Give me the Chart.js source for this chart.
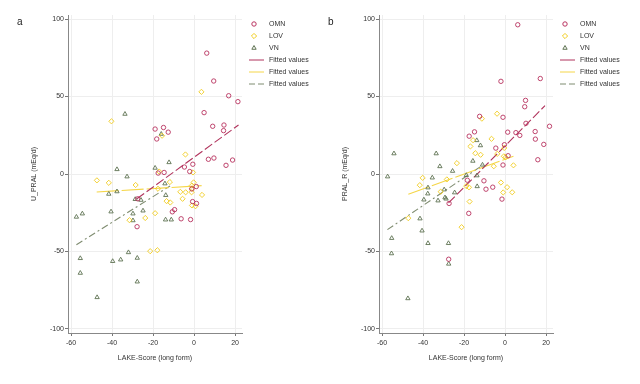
<!DOCTYPE html>
<html>
<head>
<meta charset="utf-8">
<script src="https://cdn.jsdelivr.net/npm/chart.js@4.4.1/dist/chart.umd.min.js"></script>
<style>
  body { margin: 0; background: #fff; }
  .panel { position: absolute; top: 0; width: 320px; height: 384px; }
</style>
</head>
<body>
<div class="panel" style="left:0"><canvas id="chartA" width="320" height="384"></canvas></div>
<div class="panel" style="left:311px"><canvas id="chartB" width="320" height="384"></canvas></div>
<script>
// ticks
const xTicks = [-60, -40, -20, 0, 20];
const yTicks = [-100, -50, 0, 50, 100];
const groups = ["OMN", "LOV", "VN"];

// panel a : U_PRAL vs LAKE-Score  [x, y]
const omnA = [[6.2,78],[9.6,60],[16.9,50.5],[21.4,46.7],[4.9,39.6],[9.1,30.8],[14.6,31.6],[14.4,28],
  [-19,29],[-14.9,30],[-12.6,27],[-18.2,22.6],[7,9.5],[9.7,10.3],[15.6,5.6],[18.8,9],[-4.7,4.5],
  [-0.6,6.3],[-2.1,1.6],[-17.5,0.6],[-14.6,1],[-1.1,-9.6],[1.1,-8.1],[-0.7,-17.8],[1.2,-19],
  [-9.5,-23],[-10.6,-24.4],[-6.3,-28.9],[-1.7,-29.4],[-27.5,-16],[-27.8,-34]];
const lovA = [[3.6,53],[-40.3,34],[-15.6,24.7],[-4.2,12.6],[-0.5,1],[-17,1.6],[-47.4,-4.1],[-41.6,-5.7],
  [-28.5,-7.1],[-11.8,-5.2],[-0.2,-5.4],[-1.1,-7.5],[-17.6,-9.5],[-1,-9.5],[-6.7,-11.5],[-4.1,-11.8],
  [-1.2,-11.8],[3.9,-13.5],[-5.6,-16],[-13.4,-17.5],[-11.6,-18.4],[-1,-20.3],[0.7,-20.8],[-19,-25.3],
  [-23.8,-28.4],[-31.5,-29.8],[-21.4,-49.8],[-17.9,-49.2]];
const vnA = [[-33.7,38.7],[-16,25.8],[-37.6,3],[-32.7,-1.7],[-19,3.9],[-12.2,7.5],[-14.2,-6.2],
  [-37.6,-11.3],[-41.6,-12.9],[-13.8,-13.7],[-28.7,-16.3],[-25.9,-16.8],[-40.5,-24.3],[-29.8,-25.6],
  [-24.9,-23.7],[-29.8,-30],[-13.9,-29.5],[-11.1,-29.5],[-57.4,-27.7],[-54.5,-25.6],[-55.5,-54.4],
  [-55.5,-63.9],[-47.3,-79.6],[-39.7,-56.3],[-35.8,-55.3],[-32,-50.6],[-27.7,-54.2],[-27.7,-69.5]];
const fitA = [
  [[-27.9,-16],[21.7,31.6]],
  [[-47.5,-11.6],[3.7,-7.5]],
  [[-57.4,-45.6],[-11.7,-7.7]]
];

// panel b : PRAL_R vs LAKE-Score  [x, y]
const omnB = [[6.2,96.3],[-2,59.8],[17.2,61.6],[10,47.5],[9.6,43.4],[-1,36.6],[-12.4,37.2],[10.2,32.7],
  [1.3,27],[5.3,26.7],[7.2,24.9],[14.7,27.4],[21.7,30.8],[14.8,22.5],[18.9,19.1],[16,9.2],[-14.9,27.2],
  [-17.5,24.4],[-4.5,16.7],[-0.3,18.9],[1.5,11.8],[-1,5.8],[-18.4,-4],[-10.3,-4.4],[-9.3,-9.8],
  [-6,-8.5],[-1.5,-16.2],[-27.3,-19],[-17.7,-25.4],[-27.5,-55]];
const lovB = [[-3.9,38.9],[-11.3,35.7],[-6.6,22.7],[-15.6,21.8],[-16.9,17.8],[-14.5,13.4],[-11.9,12.4],
  [-3.8,13],[-0.4,16.8],[-0.6,11.4],[0.3,10.8],[-5.5,5],[4.1,5.6],[-23.5,7],[-28.4,-3.5],[-40.2,-2.5],
  [-41.6,-7.2],[-31.4,-11.4],[-18.9,-7.8],[-17.6,-8.6],[-2,-5.5],[1,-8.5],[-0.9,-11.9],[3.5,-11.8],
  [-17.3,-17.8],[-21.2,-34.3],[-47.2,-28.5]];
const vnB = [[-54.2,13.2],[-33.6,13.2],[-57.3,-1.7],[-31.8,4.9],[-25.6,1.9],[-35.5,-2.4],[-37.6,-8.8],
  [-37.7,-12.7],[-39.6,-16.6],[-32.7,-17.2],[-29.7,-10.1],[-29.3,-15.2],[-28.8,-16],[-24.6,-12],
  [-13.8,21.7],[-12,18.4],[-15.7,8.4],[-11,5.9],[-18.9,-0.8],[-13.7,-1],[-13.6,-8],[-41.5,-28.8],
  [-40.5,-36.6],[-37.6,-44.7],[-27.6,-44.7],[-55.3,-41.4],[-55.4,-51.3],[-27.5,-58],[-47.4,-80.3]];
const fitB = [
  [[-27.6,-18.7],[19.5,44.1]],
  [[-47.2,-13.1],[4.1,11.4]],
  [[-57.4,-35.9],[-10.6,6]]
];

const markColors = ["#b8325f", "#f0cc1e", "#5f7352"];
const lineColors = ["#b0335c", "#f5d648", "#7f8c70"];
const markStyles = ["circle", "rectRot", "triangle"];
const markSizes = [2.2, 2.6, 2.5];
const lineDash = [[9, 3], [22, 3], [7, 3, 2, 3]];
const FONT = "'Liberation Sans', Arial, sans-serif";

const toXY = (arr) => arr.map((p) => ({ x: p[0], y: p[1] }));

const sideLegend = {
  id: "sideLegend",
  afterDraw(chart, args, opts) {
    const ctx = chart.ctx;
    const x0 = chart.chartArea.right + 12;
    ctx.save();
    chart.data.datasets.forEach((ds, i) => {
      const y = 24 + i * 12;
      ctx.strokeStyle = ds.borderColor;
      ctx.fillStyle = "rgba(0,0,0,0)";
      if (ds.showLine) {
        ctx.lineWidth = 1;
        ctx.setLineDash(i === 5 ? [6, 3] : []);
        ctx.beginPath();
        ctx.moveTo(x0 - 5, y);
        ctx.lineTo(x0 + 10, y);
        ctx.stroke();
        ctx.setLineDash([]);
      } else {
        Chart.helpers.drawPoint(ctx, {
          pointStyle: ds.pointStyle,
          radius: ds.pointRadius,
          borderWidth: ds.pointBorderWidth
        }, x0, y);
      }
      ctx.fillStyle = "#333";
      ctx.font = "7px " + FONT;
      ctx.textBaseline = "middle";
      ctx.textAlign = "left";
      ctx.fillText(ds.label, x0 + 15, y);
    });
    ctx.font = "10px " + FONT;
    ctx.fillStyle = "#222";
    ctx.fillText(opts.letter, 17, 22);
    ctx.restore();
  }
};

function makeChart(id, letter, yTitle, omn, lov, vn, fits) {
  const points = [omn, lov, vn].map((d, i) => ({
    label: groups[i],
    data: toXY(d),
    showLine: false,
    pointStyle: markStyles[i],
    pointRadius: markSizes[i],
    pointBorderWidth: 0.9,
    borderColor: markColors[i],
    backgroundColor: "rgba(0,0,0,0)"
  }));
  const lines = fits.map((d, i) => ({
    label: "Fitted values",
    data: toXY(d),
    showLine: true,
    pointRadius: 0,
    borderWidth: 1.1,
    borderDash: lineDash[i],
    borderColor: lineColors[i],
    backgroundColor: lineColors[i]
  }));

  return new Chart(document.getElementById(id), {
    type: "scatter",
    data: { datasets: points.concat(lines) },
    plugins: [sideLegend],
    options: {
      responsive: false,
      animation: false,
      devicePixelRatio: 1,
      layout: { padding: { top: 15, right: 78, bottom: 20, left: 0 } },
      plugins: {
        legend: { display: false },
        tooltip: { enabled: false },
        sideLegend: { letter: letter }
      },
      scales: {
        x: {
          type: "linear",
          min: -61.5,
          max: 23.4,
          afterBuildTicks: (s) => { s.ticks = xTicks.map((v) => ({ value: v })); },
          afterFit: (s) => { s.height = 31; },
          grid: { color: "#eeeeee", tickColor: "#777", tickLength: 3 },
          border: { color: "#888" },
          ticks: { color: "#333", font: { family: FONT, size: 7 }, padding: 3, maxRotation: 0 },
          title: {
            display: true,
            text: "LAKE-Score (long form)",
            color: "#333",
            font: { family: FONT, size: 7 },
            padding: { top: 0, bottom: 2 }
          }
        },
        y: {
          type: "linear",
          min: -102.6,
          max: 102.6,
          afterBuildTicks: (s) => { s.ticks = yTicks.map((v) => ({ value: v })); },
          afterFit: (s) => { s.width = 68; },
          grid: { color: "#eeeeee", tickColor: "#777", tickLength: 3 },
          border: { color: "#888" },
          ticks: { color: "#333", font: { family: FONT, size: 7 }, padding: 1 },
          title: {
            display: true,
            text: yTitle,
            color: "#333",
            font: { family: FONT, size: 7 },
            padding: { top: 30, bottom: 0 }
          }
        }
      }
    }
  });
}

makeChart("chartA", "a", "U_PRAL (mEq/d)", omnA, lovA, vnA, fitA);
makeChart("chartB", "b", "PRAL_R (mEq/d)", omnB, lovB, vnB, fitB);
</script>
</body>
</html>
